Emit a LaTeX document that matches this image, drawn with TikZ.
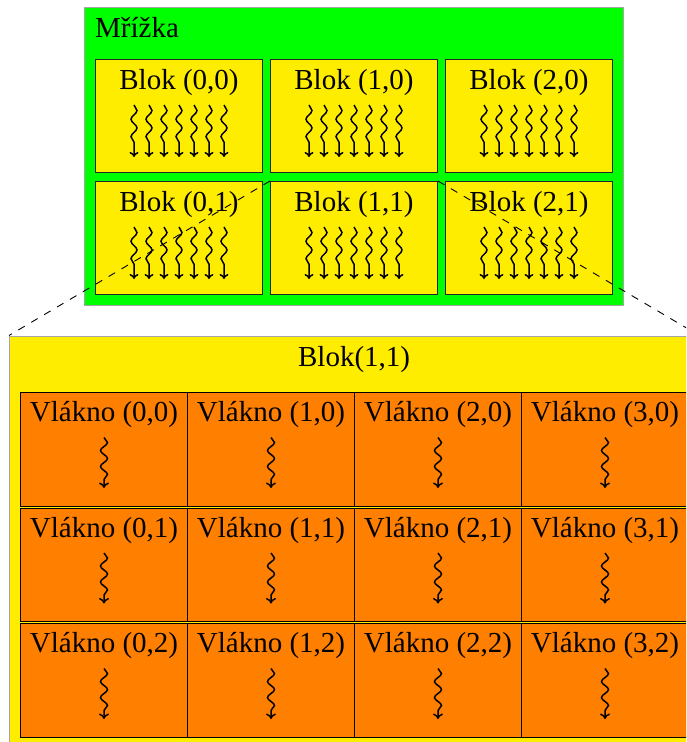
\documentclass[tikz,border=0pt]{standalone}
\usepackage{fontspec}
\setmainfont{Liberation Serif}
\usetikzlibrary{decorations.pathmorphing,arrows.meta}
\definecolor{gridgreen}{RGB}{0,255,0}
\definecolor{blockyellow}{RGB}{255,237,0}
\definecolor{threadorange}{RGB}{255,127,0}
\definecolor{framegray}{RGB}{165,165,165}

\begin{document}
\begin{tikzpicture}[x=1pt,y=-1pt,
  lbl/.style={font=\fontsize{29}{34}\selectfont, inner sep=0pt, anchor=base},
  framebox/.style={draw=framegray, line width=1.2pt, inner sep=0pt, anchor=north west},
  blockbox/.style={draw=black!85, fill=blockyellow, line width=1pt,
    minimum width=167pt, minimum height=113pt, inner sep=0pt, anchor=north west},
  cellbox/.style={draw=black, fill=threadorange, line width=1pt,
    minimum width=167pt, minimum height=113.5pt, inner sep=0pt, anchor=north west},
  wavy/.style={line width=1.5pt, -{To[length=5pt,width=9pt]}, decorate,
    decoration={snake, amplitude=3pt, segment length=17.5pt, post length=8pt}},
  wavybig/.style={line width=1.5pt, -{To[length=5.5pt,width=10pt]}, decorate,
    decoration={snake, amplitude=3.5pt, segment length=16pt, post length=8pt}},
  zoomline/.style={dashed, dash pattern=on 7.5pt off 7.5pt, line width=0.9pt}
]
\path[use as bounding box, clip] (0,0) rectangle (686,742);

% grid of blocks
\node[framebox, fill=gridgreen, minimum width=539pt, minimum height=298pt] (grid) at (84,7) {};
\node[lbl, anchor=base west] (gridlabel) at (95,37.7) {Mřížka};

\foreach \i in {0,1,2} {
  \foreach \j in {0,1} {
    \node[blockbox] (b\i\j) at ({95+175*\i},{59+122*\j}) {};
    \node[lbl] (bl\i\j) at ([yshift=-30.3pt]b\i\j.north) {Blok (\i,\j)};
    \foreach \k in {-3,...,3} {
      \draw[wavy] ([xshift={\k*15pt}, yshift=-46pt]b\i\j.north)
        -- ([xshift={\k*15pt}, yshift=-98pt]b\i\j.north);
    }
  }
}

% enlarged block
\node[framebox, fill=blockyellow, minimum width=689pt, minimum height=414pt] (big) at (9,335.5) {};
\node[lbl] (biglabel) at ([yshift=-31pt]big.north) {Blok(1,1)};

\draw[zoomline] (b11.north west) -- (big.north west);
\draw[zoomline] (b11.north east) -- (big.north east);

% threads of the enlarged block
\foreach \i in {0,...,3} {
  \foreach \j in {0,1,2} {
    \node[cellbox] (t\i\j) at ({20+167*\i},{392+115.5*\j}) {};
    \node[lbl] (tl\i\j) at ([yshift=-29.7pt]t\i\j.north) {Vlákno (\i,\j)};
    \draw[wavybig] ([yshift=-45.5pt]t\i\j.north) -- ([yshift=-96pt]t\i\j.north);
  }
}
\end{tikzpicture}
\end{document}
